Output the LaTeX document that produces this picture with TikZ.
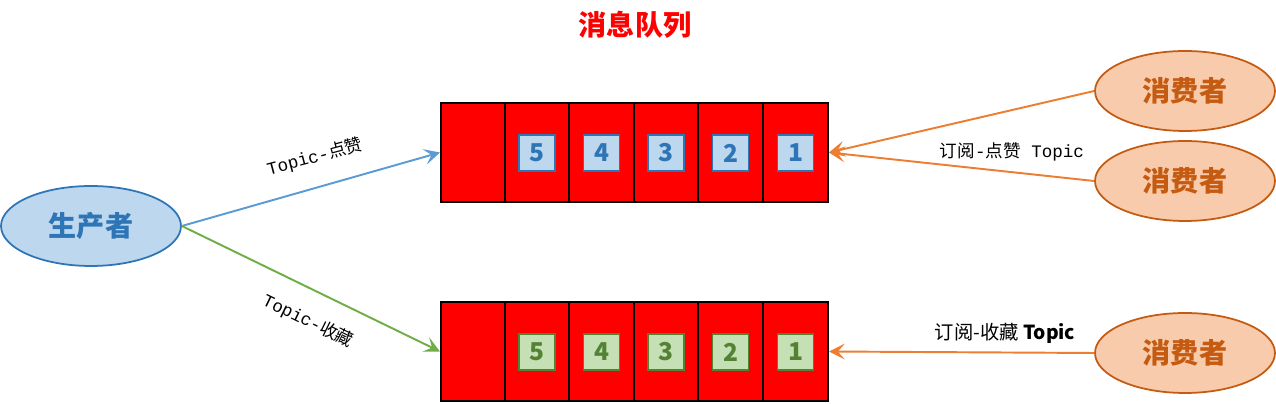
\documentclass[tikz,border=0pt]{standalone}
\usepackage{fontspec}
\newfontfamily\cjk{Noto Sans CJK SC}
\newfontfamily\mono{Liberation Mono}
\usetikzlibrary{arrows.meta,shapes.geometric}
\definecolor{queuered}{RGB}{255,0,0}
\definecolor{prodfill}{RGB}{189,215,238}
\definecolor{prodblue}{RGB}{46,117,182}
\definecolor{consfill}{RGB}{248,203,173}
\definecolor{consbrown}{RGB}{197,90,17}
\definecolor{likeblue}{RGB}{91,155,213}
\definecolor{favgreen}{RGB}{112,173,71}
\definecolor{suborange}{RGB}{237,125,49}
\definecolor{boxgreen}{RGB}{197,224,180}
\definecolor{darkgreen}{RGB}{84,130,53}

\tikzset{
  queue/.style={draw=black, line width=1.2pt, fill=queuered, minimum width=7.74cm, minimum height=1.98cm, inner sep=0pt},
  msg/.style={draw=#1, line width=1pt, minimum size=0.72cm, inner sep=0pt, font=\cjk\bfseries\fontsize{14}{14}\selectfont, text=#1},
  producer/.style={ellipse, draw=prodblue, fill=prodfill, line width=1pt, minimum width=3.6cm, minimum height=1.6cm, text=prodblue, font=\cjk\bfseries\fontsize{16}{16}\selectfont},
  consumer/.style={ellipse, draw=consbrown, fill=consfill, line width=1pt, minimum width=3.6cm, minimum height=1.6cm, text=consbrown, font=\cjk\bfseries\fontsize{16}{16}\selectfont},
  lbl/.style={inner sep=1pt, font=\cjk\fontsize{10}{10}\selectfont}
}

\begin{document}
\begin{tikzpicture}[>={Stealth[length=9pt,width=9pt,inset=4pt]}, x=0.02cm, y=-0.02cm]

  \useasboundingbox (0,0) rectangle (1276,404);

  \node[text=queuered, font=\cjk\bfseries\fontsize{16}{16}\selectfont] (title) at (635,25) {消息队列};

  % queues
  \node[queue] (likeq) at (634.5,152.5) {};
  \node[queue] (favq) at (634.5,351.5) {};
  \foreach \cx in {505,569,634,698,763} {
    \draw[line width=1.2pt] (\cx,103) -- (\cx,202);
    \draw[line width=1.2pt] (\cx,302) -- (\cx,401);
  }
  \foreach \n/\cx in {5/537,4/601.5,3/666,2/730.5,1/795.5} {
    \node[msg=prodblue, fill=prodfill] (like\n) at (\cx,153) {\n};
    \node[msg=darkgreen, fill=boxgreen] (fav\n) at (\cx,352) {\n};
  }

  % producer and consumers
  \node[producer] (prod) at (91,226) {生产者};
  \node[consumer] (consa) at (1185,91) {消费者};
  \node[consumer] (consb) at (1185,181) {消费者};
  \node[consumer] (consc) at (1185,353) {消费者};

  \draw[likeblue, line width=1.1pt, ->] (prod.east) -- (likeq.west);
  \draw[favgreen, line width=1.1pt, ->] (prod.east) -- (favq.west);
  \draw[suborange, line width=1.1pt, ->] (consa.west) -- (likeq.east);
  \draw[suborange, line width=1.1pt, ->] (consb.west) -- (likeq.east);
  \draw[suborange, line width=1.1pt, ->] (consc.west) -- (favq.east);

  \node[lbl, rotate=15] (likelbl) at (315,157) {{\mono Topic-}点赞};
  \node[lbl, rotate=-26] (favlbl) at (308,321) {{\mono Topic-}收藏};
  \node[lbl] (sublike) at (1012,152) {订阅{\mono -}点赞{\mono{} Topic}};
  \node[lbl, font=\cjk\fontsize{11}{11}\selectfont] (subfav) at (1005,333) {订阅-收藏 \textbf{Topic}};

\end{tikzpicture}
\end{document}
